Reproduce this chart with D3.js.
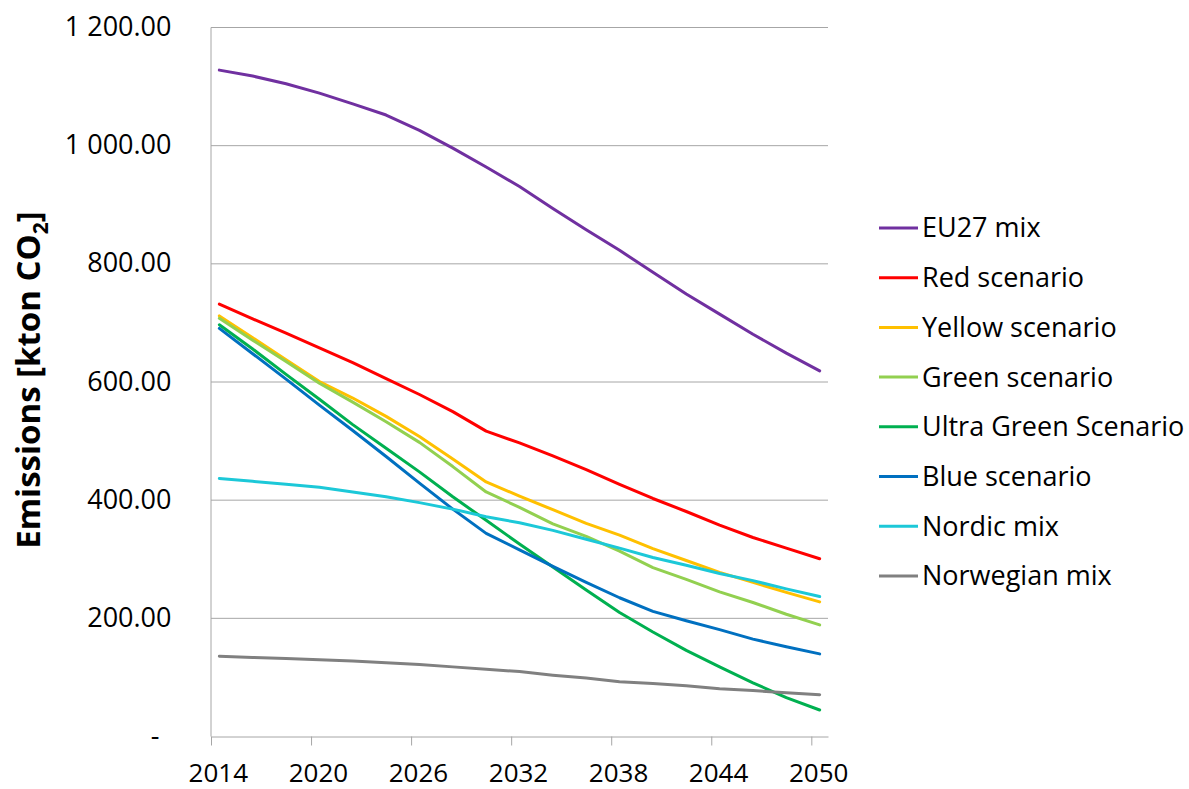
<!DOCTYPE html>
<html>
<head>
<meta charset="utf-8">
<script src="https://cdn.jsdelivr.net/npm/d3@7"></script>
<style>
  body { margin: 0; background: #fff; }
  text { font-family: "Open Sans", "Noto Sans", sans-serif; fill: #000; }
</style>
</head>
<body>
<div id="chart-area"></div>
<script>
const years = [2014, 2016, 2018, 2020, 2022, 2024, 2026, 2028, 2030, 2032,
    2034, 2036, 2038, 2040, 2042, 2044, 2046, 2048, 2050];
const tickYears = [2014, 2020, 2026, 2032, 2038, 2044, 2050];
const yTicks = [0, 200, 400, 600, 800, 1000, 1200];

const seriesNames = ["EU27 mix", "Red scenario", "Yellow scenario", "Green scenario",
    "Ultra Green Scenario", "Blue scenario", "Nordic mix", "Norwegian mix"];
const seriesColors = ["#7030a0", "#ff0000", "#ffc000", "#92d050",
    "#00b050", "#0070c0", "#1cc8d8", "#808080"];

const eu27 = [1127, 1117, 1104, 1088, 1070, 1051, 1025, 995, 963, 930, 893, 857, 822, 785, 748, 714, 680, 648, 618];
const red = [731, 706, 682, 657, 632, 605, 578, 549, 516, 496, 474, 451, 426, 402, 380, 357, 336, 318, 300];
const yellow = [711, 674, 637, 600, 572, 541, 507, 469, 430, 406, 383, 360, 340, 317, 297, 277, 260, 243, 227];
const green = [707, 670, 634, 597, 565, 532, 497, 456, 413, 387, 359, 338, 313, 285, 265, 244, 226, 206, 188];
const ultraGreen = [696, 655, 612, 570, 527, 487, 447, 405, 365, 325, 286, 247, 209, 176, 145, 117, 90, 65, 44];
const blue = [690, 647, 604, 560, 517, 473, 428, 384, 343, 315, 287, 260, 234, 211, 195, 180, 164, 151, 139];
const nordic = [436, 431, 426, 421, 413, 405, 395, 384, 371, 361, 348, 333, 318, 302, 289, 275, 263, 249, 236];
const norwegian = [135, 133, 131, 129, 127, 124, 121, 117, 113, 109, 103, 98, 92, 89, 85, 80, 77, 73, 70];

const allSeries = [eu27, red, yellow, green, ultraGreen, blue, nordic, norwegian];

const width = 1189;
const height = 789;
const plotLeft = 211, plotRight = 828, plotTop = 27, plotBottom = 736;

const svg = d3.select("#chart-area")
    .append("svg")
    .attr("width", width)
    .attr("height", height);

const x = d3.scaleLinear().domain([2013.5, 2050.5]).range([plotLeft, plotRight]);
const y = d3.scaleLinear().domain([0, 1200]).range([plotBottom, plotTop]);

// gridlines
svg.append("g")
    .selectAll("line")
    .data(yTicks.filter(d => d > 0))
    .enter().append("line")
    .attr("x1", plotLeft).attr("x2", plotRight)
    .attr("y1", d => y(d) + 0.5).attr("y2", d => y(d) + 0.5)
    .attr("stroke", "#a6a6a6")
    .attr("stroke-width", 1);

// y axis
const yAxis = svg.append("g")
    .attr("transform", `translate(${plotLeft - 0.5},0)`)
    .call(d3.axisLeft(y).tickValues(yTicks).tickSize(0).tickPadding(39)
        .tickFormat(d => d === 0 ? "-" : d3.format(",.2f")(d).replace(/,/g, " ")));
yAxis.select(".domain").attr("stroke", "#a6a6a6");
yAxis.selectAll("text")
    .style("font-size", "27px")
    .attr("font-family", null);
yAxis.selectAll("text").filter(d => d === 0).attr("dx", -12);

// x axis line and tick marks
const xAxis = svg.append("g")
    .attr("transform", `translate(0,${plotBottom + 0.5})`)
    .call(d3.axisBottom(x).tickValues(tickYears.map(d => d - 0.5)).tickSize(9).tickSizeOuter(0).tickFormat(""));
xAxis.select(".domain").attr("stroke", "#a6a6a6");
xAxis.selectAll(".tick line").attr("stroke", "#a6a6a6");

// x labels centred on categories
svg.append("g")
    .selectAll("text")
    .data(tickYears)
    .enter().append("text")
    .attr("x", d => x(d) - 1)
    .attr("y", plotBottom + 46)
    .attr("text-anchor", "middle")
    .style("font-size", "26px")
    .text(d => d);

// y axis title
const title = svg.append("text")
    .attr("transform", `translate(40,380) rotate(-90)`)
    .attr("text-anchor", "middle")
    .style("font-size", "33px")
    .style("font-weight", "bold");
title.append("tspan").text("Emissions [kton CO");
title.append("tspan").text("2").style("font-size", "21px").attr("dy", 8);
title.append("tspan").text("]").attr("dy", -8);

// lines
const line = d3.line()
    .x((d, i) => x(years[i]))
    .y(d => y(d));

svg.append("g")
    .selectAll("path")
    .data(allSeries)
    .enter().append("path")
    .attr("d", line)
    .attr("fill", "none")
    .attr("stroke", (d, i) => seriesColors[i])
    .attr("stroke-width", 3)
    .attr("stroke-linejoin", "round")
    .attr("stroke-linecap", "round");

// legend
const legend = svg.append("g")
    .selectAll("g")
    .data(seriesNames)
    .enter().append("g")
    .attr("transform", (d, i) => `translate(879,${228 + i * 49.7})`);

legend.append("line")
    .attr("x1", 0).attr("x2", 39)
    .attr("stroke", (d, i) => seriesColors[i])
    .attr("stroke-width", 3);

legend.append("text")
    .attr("x", 43)
    .attr("dy", "0.35em")
    .style("font-size", "27px")
    .text(d => d);
</script>
</body>
</html>
